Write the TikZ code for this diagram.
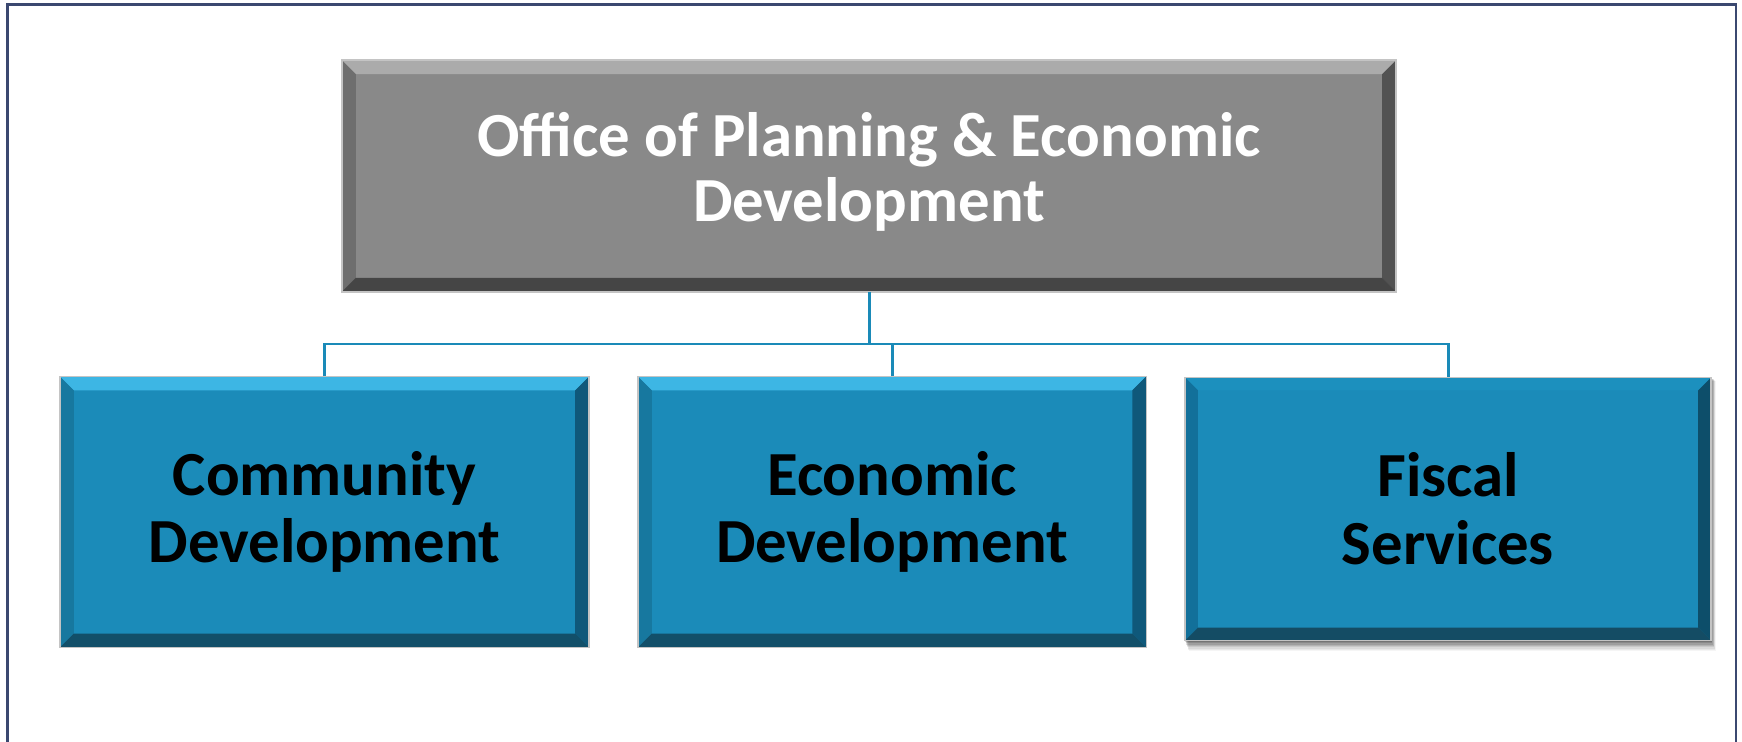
\documentclass[tikz,border=0pt]{standalone}
\usepackage{fontspec}
\setmainfont{Carlito}
\usetikzlibrary{calc,backgrounds}
\definecolor{framec}{HTML}{3B4870}
\definecolor{connc}{HTML}{1A8AB8}
\definecolor{grayfill}{HTML}{898989}
\definecolor{graytop}{HTML}{ABABAB}
\definecolor{grayleft}{HTML}{6E6E6E}
\definecolor{grayright}{HTML}{525252}
\definecolor{graybot}{HTML}{454545}
\definecolor{bluefill}{HTML}{1B8BB9}
\definecolor{bluetop}{HTML}{3DB6E4}
\definecolor{blueleft}{HTML}{17789F}
\definecolor{blueright}{HTML}{0F587A}
\definecolor{bluebot}{HTML}{124F69}
\definecolor{cthreetop}{HTML}{1C90BE}
\definecolor{cthreeleft}{HTML}{12709A}
\definecolor{cthreeright}{HTML}{0D4E6A}
\definecolor{cthreebot}{HTML}{144C64}
\definecolor{edgec}{HTML}{C4C4C4}
\newcommand{\bevelbox}[6]{%
  \fill[#3] (#1.north west) -- (#1.north east) -- ($(#1.north east)+(-#2,#2)$) -- ($(#1.north west)+(#2,#2)$) -- cycle;
  \fill[#4] (#1.north west) -- ($(#1.north west)+(#2,#2)$) -- ($(#1.south west)+(#2,-#2)$) -- (#1.south west) -- cycle;
  \fill[#5] (#1.north east) -- ($(#1.north east)+(-#2,#2)$) -- ($(#1.south east)+(-#2,-#2)$) -- (#1.south east) -- cycle;
  \fill[#6] (#1.south west) -- ($(#1.south west)+(#2,-#2)$) -- ($(#1.south east)+(-#2,-#2)$) -- (#1.south east) -- cycle;
  \draw[edgec, line width=1.5] (#1.north west) rectangle (#1.south east);
}
\tikzset{
  boxbase/.style={rectangle, inner sep=0pt, align=center,
    font=\bfseries\fontsize{63}{68}\selectfont},
  topbox/.style={boxbase, fill=grayfill, text=white,
    minimum width=1058, minimum height=232},
  subbox/.style={boxbase, fill=bluefill, text=black,
    minimum width=531, minimum height=272},
  conn/.style={draw=connc, line width=3},
  framestyle/.style={draw=framec, line width=2.5}
}
\begin{document}
\begin{tikzpicture}[x=1bp,y=-1bp]
\useasboundingbox (0,0) rectangle (1742,742);
% frame
\coordinate (fbl) at (7.5,745);
\coordinate (ftl) at (7.5,4.5);
\coordinate (ftr) at (1736,4.5);
\coordinate (fbr) at (1736,745);
\draw[framestyle] (fbl) -- (ftl) -- (ftr) -- (fbr);

% nodes
\node[topbox, text depth=18pt] (top) at (869,176) {Office of Planning \& Economic\\[-2pt]Development};
\node[subbox] (b1) at (324.5,512) {Community\\Development};
\node[subbox, minimum width=510] (b2) at (892,512) {Economic\\Development};
\node[subbox, minimum width=528, minimum height=264] (b3) at (1448,509) {Fiscal\\Services};

% background and shadow of third box
\begin{pgfonlayer}{background}
  \fill[white] (0,0) rectangle (1742,742);
  \foreach \d/\o in {1/0.14,2/0.13,3/0.12,4/0.10,5/0.08,6/0.06,7/0.05,8/0.04}{
    \fill[black, opacity=\o] ($(b3.north west)+(\d*0.5,\d*0.5)$) rectangle ($(b3.south east)+(\d*0.6,\d*1.3)$);
  }
\end{pgfonlayer}

\bevelbox{top}{14}{graytop}{grayleft}{grayright}{graybot}
\bevelbox{b1}{14}{bluetop}{blueleft}{blueright}{bluebot}
\bevelbox{b2}{14}{bluetop}{blueleft}{blueright}{bluebot}
\bevelbox{b3}{13}{cthreetop}{cthreeleft}{cthreeright}{cthreebot}

% connectors
\coordinate (bus) at (0,344);
\draw[conn] (top.south) -- (top.south |- bus);
\draw[conn] (b1.north) -- (b1.north |- bus) -- (b3.north |- bus) -- (b3.north);
\draw[conn] (b2.north) -- (b2.north |- bus);
\end{tikzpicture}
\end{document}
